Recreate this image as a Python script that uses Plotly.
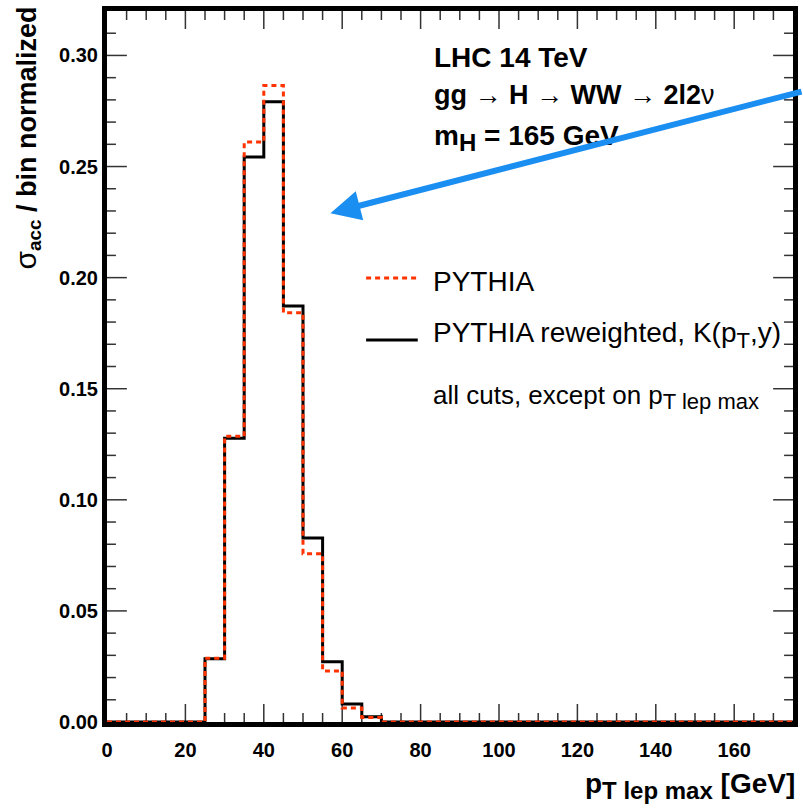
import plotly.graph_objects as go

# ---- data ----
bin_edges = [0, 5, 10, 15, 20, 25, 30, 35, 40, 45, 50, 55, 60, 65, 70, 75, 80, 85, 90,
             95, 100, 105, 110, 115, 120, 125, 130, 135, 140, 145, 150, 155, 160, 165, 170, 175]
pythia = [0, 0, 0, 0, 0,
          0.0287, 0.1286, 0.2610, 0.2865, 0.1842, 0.0757, 0.0230, 0.0063, 0.0020,
          0, 0, 0, 0, 0, 0, 0, 0, 0, 0, 0, 0, 0, 0, 0, 0, 0, 0, 0, 0, 0]
pythia_rw = [0, 0, 0, 0, 0,
             0.0285, 0.1277, 0.2543, 0.2792, 0.1872, 0.0828, 0.0271, 0.0081, 0.0024,
             0, 0, 0, 0, 0, 0, 0, 0, 0, 0, 0, 0, 0, 0, 0, 0, 0, 0, 0, 0, 0]
x_ticks = [0, 20, 40, 60, 80, 100, 120, 140, 160]
y_ticks = [0.00, 0.05, 0.10, 0.15, 0.20, 0.25, 0.30]
x_minor_step = 5
y_minor_step = 0.01
X_MAX, Y_MAX = 175, 0.32

RED = "#ff3300"
BLUE = "#1b8ef2"
FONT = "Liberation Sans"
TICK_COLOR = "#333"

W, H = 803, 809
ML, MR, MT, MB = 107, 5, 11, 87
PLOT_W, PLOT_H = W - ML - MR, H - MT - MB

# ---- inside tick marks on all four sides, as one line trace ----
def px_to_y(px):
    return px / PLOT_H * Y_MAX

def px_to_x(px):
    return px / PLOT_W * X_MAX

tx, ty = [], []
n_x = int(round(X_MAX / x_minor_step))
for i in range(1, n_x):
    v = i * x_minor_step
    ln = px_to_y(18 if any(abs(v - t) < 1e-9 for t in x_ticks) else 9)
    tx += [v, v, None, v, v, None]
    ty += [0, ln, None, Y_MAX, Y_MAX - ln, None]
n_y = int(round(Y_MAX / y_minor_step))
for i in range(1, n_y):
    v = round(i * y_minor_step, 4)
    ln = px_to_x(20 if any(abs(v - t) < 1e-9 for t in y_ticks) else 9)
    tx += [0, ln, None, X_MAX, X_MAX - ln, None]
    ty += [v, v, None, v, v, None]

fig = go.Figure()
fig.add_trace(go.Scatter(x=tx, y=ty, mode="lines", hoverinfo="skip",
                         line=dict(color=TICK_COLOR, width=1.5), connectgaps=False))
fig.add_trace(go.Scatter(x=bin_edges, y=pythia_rw + [pythia_rw[-1]], mode="lines",
                         line=dict(color="black", width=3, shape="hv"),
                         name="PYTHIA reweighted, K(p<sub>T</sub>,y)"))
fig.add_trace(go.Scatter(x=bin_edges, y=pythia + [pythia[-1]], mode="lines",
                         line=dict(color=RED, width=3, shape="hv", dash="5px,4px"),
                         name="PYTHIA"))

tickfont = dict(family=FONT, size=20, color="black", weight="bold")
fig.update_xaxes(range=[0, X_MAX], tickvals=x_ticks, ticks="",
                 showline=True, linewidth=5, linecolor="black", mirror=True,
                 layer="below traces", showgrid=False, zeroline=False,
                 tickfont=tickfont, ticklabelstandoff=6)
fig.update_yaxes(range=[0, Y_MAX], tickvals=y_ticks, tickformat=".2f", ticks="",
                 showline=True, linewidth=5, linecolor="black", mirror=True,
                 layer="below traces", showgrid=False, zeroline=False,
                 tickfont=tickfont, ticksuffix="   ")

# legend samples
shapes = [
    dict(type="line", xref="paper", yref="paper", x0=0.3777, x1=0.4530,
         y0=0.6245, y1=0.6245, line=dict(color=RED, width=3, dash="5px,4px")),
    dict(type="line", xref="paper", yref="paper", x0=0.3777, x1=0.4530,
         y0=0.5373, y1=0.5373, line=dict(color="black", width=3)),
]

ann = []
ann.append(dict(xref="paper", yref="paper", x=0, y=1, xanchor="center", yanchor="top",
                xshift=-80, yshift=6, textangle=-90, showarrow=False,
                text="<span style='font-size:30px'>σ</span><b><sub>acc</sub> / bin normalized</b>",
                font=dict(family=FONT, size=27, color="black")))
ann.append(dict(xref="paper", yref="paper", x=1, y=0, xanchor="right", yanchor="top",
                xshift=4, yshift=-44, showarrow=False,
                text="<b>p<sub><span style='font-size:24px'>T lep max</span></sub> [GeV]</b>",
                font=dict(family=FONT, size=28, color="black")))
ann.append(dict(xref="paper", yref="paper", x=0.4734, y=0.934, xanchor="left",
                yanchor="middle", showarrow=False, text="<b>LHC 14 TeV</b>",
                font=dict(family=FONT, size=28, color="black")))
ann.append(dict(xref="paper", yref="paper", x=0.4734, y=0.8825, xanchor="left",
                yanchor="middle", showarrow=False,
                text="<b>gg</b> → <b>H</b> → <b>WW</b> → <b>2l2</b>ν",
                font=dict(family=FONT, size=27, color="black")))
ann.append(dict(xref="paper", yref="paper", x=0.4734, y=0.822, xanchor="left",
                yanchor="middle", showarrow=False,
                text="<b>m<sub><span style='font-size:24px'>H</span></sub> = 165 GeV</b>",
                font=dict(family=FONT, size=28, color="black")))
ann.append(dict(xref="paper", yref="paper", x=0.4718, y=0.6196, xanchor="left",
                yanchor="middle", showarrow=False, text="PYTHIA",
                font=dict(family=FONT, size=28, color="black")))
ann.append(dict(xref="paper", yref="paper", x=0.4718, y=0.545, xanchor="left",
                yanchor="middle", showarrow=False,
                text="PYTHIA reweighted, K(p<sub><span style='font-size:22px'>T</span></sub>,y)",
                font=dict(family=FONT, size=28, color="black")))
ann.append(dict(xref="paper", yref="paper", x=0.4718, y=0.457, xanchor="left",
                yanchor="middle", showarrow=False,
                text="all cuts, except on p<sub><span style='font-size:22px'>T lep max</span></sub>",
                font=dict(family=FONT, size=26, color="black")))
ann.append(dict(xref="x", yref="y", x=57.0, y=0.2290, ax=480, ay=-122,
                axref="pixel", ayref="pixel", showarrow=True, text="",
                arrowhead=2, arrowsize=1, arrowwidth=6, arrowcolor=BLUE))

fig.update_layout(width=W, height=H, margin=dict(l=ML, r=MR, t=MT, b=MB),
                  plot_bgcolor="rgba(0,0,0,0)", paper_bgcolor="white",
                  showlegend=False, shapes=shapes, annotations=ann)

fig.write_html("out.html")
